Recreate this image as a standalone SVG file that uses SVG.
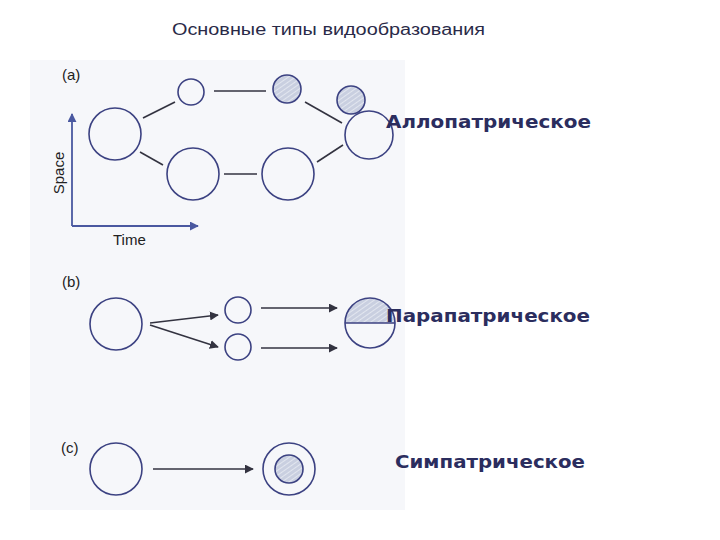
<svg xmlns="http://www.w3.org/2000/svg" width="720" height="540" viewBox="0 0 720 540">
<defs>
<pattern id="hatch" width="4" height="4" patternUnits="userSpaceOnUse" patternTransform="rotate(-35)">
<rect width="4" height="4" fill="#c9cfe0"/>
<line x1="0" y1="0" x2="4" y2="0" stroke="#eef0f6" stroke-width="1.4"/>
</pattern>
<marker id="arr" viewBox="0 0 10 10" refX="9" refY="5" markerWidth="9" markerHeight="9" markerUnits="userSpaceOnUse" orient="auto">
<path d="M0,0 L10,5 L0,10 z" fill="#333340"/>
</marker>
<marker id="axarr" viewBox="0 0 10 10" refX="9" refY="5" markerWidth="9" markerHeight="9" markerUnits="userSpaceOnUse" orient="auto">
<path d="M0,0 L10,5 L0,10 z" fill="#4a58a0"/>
</marker>
</defs>
<style>
.c{fill:none;stroke:#3c4282;stroke-width:1.6}
.h{fill:url(#hatch);stroke:#3c4282;stroke-width:1.6}
.ln{stroke:#333340;stroke-width:1.6;fill:none}
.ar{stroke:#333340;stroke-width:1.6;fill:none;marker-end:url(#arr)}
.ax{stroke:#4a58a0;stroke-width:1.8;fill:none;marker-end:url(#axarr)}
.lab{font-family:"Liberation Sans",Arial,sans-serif;font-size:15px;fill:#222}
.big{font-family:"DejaVu Sans",Verdana,sans-serif;font-weight:bold;font-size:17px;fill:#2b2d5e}
.title{font-family:"Liberation Sans",Arial,sans-serif;font-size:16px;fill:#2a2a48}
</style>
<rect width="720" height="540" fill="#ffffff"/>
<rect x="30" y="60" width="375" height="450" fill="#f6f7fa"/>
<text class="title" x="172" y="35" textLength="313" lengthAdjust="spacingAndGlyphs">Основные типы видообразования</text>

<g id="connectors">
<line class="ln" x1="143" y1="118" x2="175" y2="102"/>
<line class="ln" x1="214" y1="91" x2="266" y2="91"/>
<line class="ln" x1="305" y1="102" x2="342" y2="123"/>
<line class="ln" x1="140" y1="152" x2="163" y2="165"/>
<line class="ln" x1="224" y1="174" x2="257" y2="174"/>
<line class="ln" x1="317" y1="162" x2="343" y2="145"/>
<line class="ax" x1="72" y1="226" x2="72" y2="114"/>
<line class="ax" x1="72" y1="226" x2="198" y2="226"/>
<line class="ar" x1="150" y1="323" x2="218" y2="315"/>
<line class="ar" x1="150" y1="325" x2="218" y2="347"/>
<line class="ar" x1="261" y1="308" x2="337" y2="308"/>
<line class="ar" x1="261" y1="348" x2="337" y2="348"/>
<line class="ar" x1="153" y1="469" x2="253" y2="469"/>
</g>

<g id="panel-a">
<text class="lab" x="62" y="80">(a)</text>
<text class="lab" x="64" y="173" transform="rotate(-90 64 173)" text-anchor="middle">Space</text>
<text class="lab" x="113" y="245">Time</text>
<g id="a1"><circle class="c" cx="115" cy="134" r="26"/></g>
<g id="a2"><circle class="c" cx="191" cy="92" r="13"/></g>
<g id="a3"><circle class="h" cx="287" cy="89" r="14"/></g>
<g id="a4"><circle class="h" cx="351" cy="100" r="14"/></g>
<g id="a5"><circle class="c" cx="369" cy="135" r="24"/></g>
<g id="a6"><circle class="c" cx="193" cy="174" r="26"/></g>
<g id="a7"><circle class="c" cx="288" cy="174" r="26"/></g>
</g>

<g id="panel-b">
<text class="lab" x="62" y="287">(b)</text>
<g id="b1"><circle class="c" cx="116" cy="324" r="26"/></g>
<g id="b2"><circle class="c" cx="238" cy="310" r="13"/></g>
<g id="b3"><circle class="c" cx="238" cy="347" r="13"/></g>
<g id="b4">
<path d="M345,323 A25,25 0 0 1 395,323 Z" fill="url(#hatch)"/>
<circle class="c" cx="370" cy="323" r="25"/>
<line class="c" x1="345" y1="323" x2="395" y2="323"/>
</g>
</g>

<g id="panel-c">
<text class="lab" x="61" y="453">(c)</text>
<g id="c1"><circle class="c" cx="116" cy="469" r="26"/></g>
<g id="c2"><circle class="c" cx="289" cy="469" r="26"/><circle class="h" cx="289" cy="469" r="14"/></g>
</g>

<g id="labels">
<text class="big" x="386" y="128" textLength="205" lengthAdjust="spacingAndGlyphs">Аллопатрическое</text>
<text class="big" x="386" y="322" textLength="204" lengthAdjust="spacingAndGlyphs">Парапатрическое</text>
<text class="big" x="395" y="468" textLength="190" lengthAdjust="spacingAndGlyphs">Симпатрическое</text>
</g>
</svg>
